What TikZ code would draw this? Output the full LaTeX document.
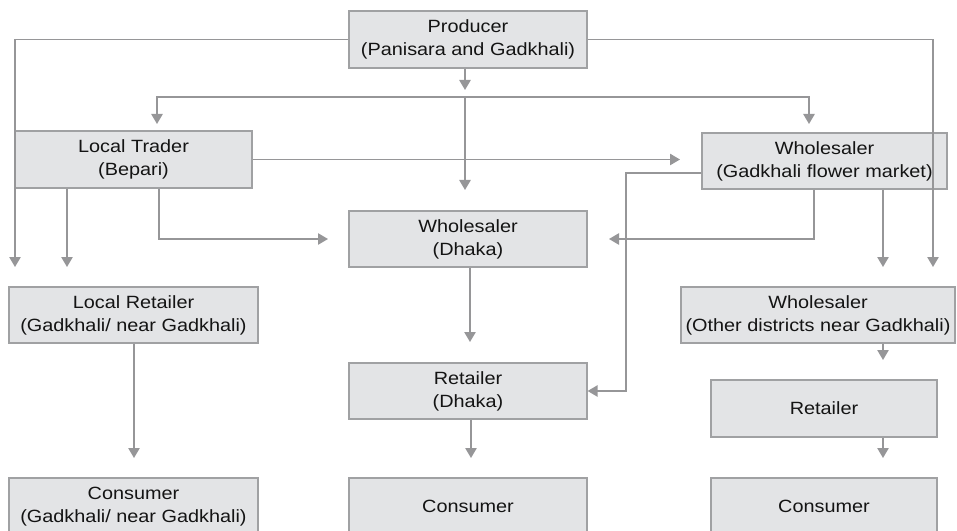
\documentclass[tikz,border=0pt]{standalone}
\usepackage{fontspec}
\setmainfont{Liberation Sans}[FakeStretch=1.12]
\usetikzlibrary{arrows.meta}
\definecolor{boxfill}{RGB}{227,228,230}
\definecolor{boxline}{RGB}{160,161,163}
\definecolor{connc}{RGB}{150,150,152}
\definecolor{txt}{RGB}{20,20,20}
\begin{document}
\begin{tikzpicture}[x=0.75pt,y=-0.75pt,
  box/.style={draw=boxline, line width=0.9pt, fill=boxfill, inner sep=0pt, align=center, text=txt,
    font=\fontsize{13.3}{17.25}\selectfont},
  conn/.style={draw=connc, line width=1.2pt},
  arr/.style={conn, -{Triangle[length=7.5pt,width=8.5pt]}}]
\useasboundingbox (0,0) rectangle (957,531);
% boxes
\node[box, minimum width=178.5pt, minimum height=42.75pt] (prod) at (468,39.5) {Producer\\(Panisara and Gadkhali)};
\node[box, minimum width=177.75pt, minimum height=42.75pt] (lt) at (133.5,159.5) {Local Trader\\(Bepari)};
\node[box, minimum width=183.75pt, minimum height=42pt] (wg) at (824.5,161) {Wholesaler\\(Gadkhali flower market)};
\node[box, minimum width=178.5pt, minimum height=42pt] (wd) at (468,239) {Wholesaler\\(Dhaka)};
\node[box, minimum width=186.75pt, minimum height=42pt] (lr) at (133.5,315) {Local Retailer\\(Gadkhali/ near Gadkhali)};
\node[box, minimum width=205.5pt, minimum height=42pt] (wo) at (818,315) {Wholesaler\\(Other districts near Gadkhali)};
\node[box, minimum width=178.5pt, minimum height=42pt] (rd) at (468,391) {Retailer\\(Dhaka)};
\node[box, minimum width=169.5pt, minimum height=42.75pt] (rr) at (824,408.5) {Retailer};
\node[box, minimum width=186.75pt, minimum height=42.75pt] (cl) at (133.5,506.5) {Consumer\\(Gadkhali/ near Gadkhali)};
\node[box, minimum width=178.5pt, minimum height=42.75pt] (cm) at (468,506.5) {Consumer};
\node[box, minimum width=169.5pt, minimum height=42.75pt] (cr) at (824,506.5) {Consumer};
% coordinates
\coordinate (pl) at (15,267);
\coordinate (pr) at (933,267);
\coordinate (pd) at (465,90);
\coordinate (j) at (465,97);
\coordinate (jl) at (157,124);
\coordinate (jr) at (809,124);
\coordinate (jm) at (465,190);
\coordinate (lte) at (680,159.5);
\coordinate (lta) at (67,267);
\coordinate (ltk) at (159,239);
\coordinate (ltt) at (328,239);
\coordinate (wgk1) at (626,173);
\coordinate (wgk2) at (626,391);
\coordinate (wgk3) at (814,239);
\coordinate (wgt) at (609,239);
\coordinate (wga) at (883,267);
\coordinate (woa) at (883,360);
\coordinate (rra) at (883,458);
\coordinate (lra) at (134,458);
\coordinate (wda) at (470,342);
\coordinate (rda) at (471,458);
% connectors
\draw[arr] (prod.west) -| (pl);
\draw[arr] (prod.east) -| (pr);
\draw[arr] (prod.south -| pd) -- (pd);
\draw[arr] (j) -| (jl);
\draw[arr] (j) -| (jr);
\draw[arr] (j) -- (jm);
\draw[arr] (lt.east) -- (lte);
\draw[arr] (lt.south -| lta) -- (lta);
\draw[arr] (lt.south -| ltk) -- (ltk) -- (ltt);
\draw[arr] (wg.west |- wgk1) -- (wgk1) -- (wgk2) -- (rd.east);
\draw[arr] (wg.south -| wgk3) -- (wgk3) -- (wgt);
\draw[arr] (wg.south -| wga) -- (wga);
\draw[arr] (wo.south -| woa) -- (woa);
\draw[arr] (rr.south -| rra) -- (rra);
\draw[arr] (lr.south -| lra) -- (lra);
\draw[arr] (wd.south -| wda) -- (wda);
\draw[arr] (rd.south -| rda) -- (rda);
\end{tikzpicture}
\end{document}
